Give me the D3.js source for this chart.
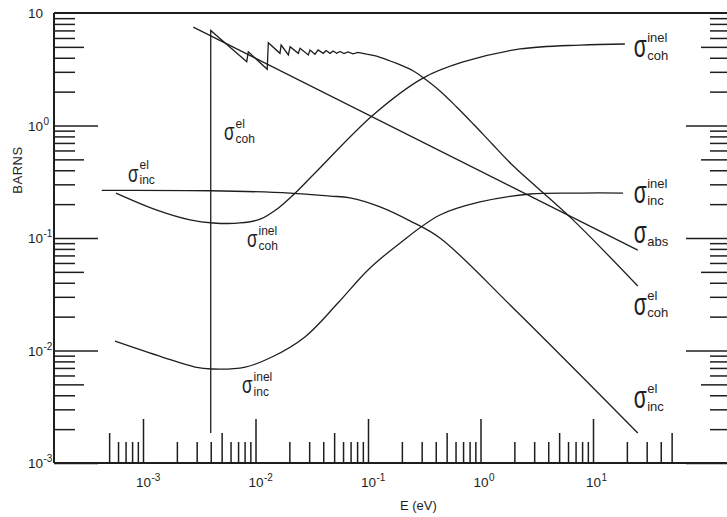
<!DOCTYPE html>
<html>
<head>
<meta charset="utf-8">
<script src="https://cdn.jsdelivr.net/npm/d3@7"></script>
<style>
  html, body { margin: 0; padding: 0; background: #ffffff; }
  svg { display: block; }
  text { font-family: "Liberation Sans", Arial, sans-serif; fill: #1e1e1e; }
</style>
</head>
<body>
<svg id="chart" width="727" height="517"></svg>
<script>
// Neutron cross sections (barns) against neutron energy E (eV)

// absorption, 1/v law
const absorption = [[2.8e-3, 7.5], [25, 0.078]];

// coherent elastic: Bragg cut-off and edges
const cohElasticEdges = [
  [4.0e-3, 1.85e-3], [4.0e-3, 7.0],
  [8.36e-3, 3.69], [8.63e-3, 4.53],
  [1.27e-2, 3.16], [1.30e-2, 5.44],
  [1.65e-2, 4.38], [1.69e-2, 5.19],
  [1.96e-2, 4.24], [2.03e-2, 5.01],
  [2.40e-2, 4.38], [2.49e-2, 4.85],
  [2.95e-2, 4.24], [3.05e-2, 4.69],
  [3.38e-2, 4.30], [3.6e-2, 4.69],
  [4.0e-2, 4.38], [4.24e-2, 4.64],
  [4.6e-2, 4.38], [4.89e-2, 4.59],
  [5.27e-2, 4.38], [5.64e-2, 4.55],
  [6.12e-2, 4.36], [6.64e-2, 4.50],
  [7.36e-2, 4.33], [8.15e-2, 4.46],
  [9.7e-2, 4.30]
];
// coherent elastic: smooth fall-off above the last edges
const cohElasticTail = [
  [9.7e-2, 4.30], [0.128, 4.04], [0.18, 3.56], [0.253, 3.05], [0.308, 2.67],
  [0.436, 2.03], [0.614, 1.46], [0.863, 1.03], [1.27, 0.685], [1.96, 0.436],
  [6.5, 0.148], [25, 0.0374]
];
// coherent inelastic
const cohInelastic = [
  [5.75e-4, 0.251], [1.33e-3, 0.177], [2.62e-3, 0.145], [4.2e-3, 0.136],
  [7.3e-3, 0.136], [1.1e-2, 0.147], [1.6e-2, 0.185], [2.2e-2, 0.245],
  [3.38e-2, 0.378], [0.111, 1.24], [0.308, 2.64], [0.70, 3.67], [2.25, 4.79],
  [7.7, 5.19], [19.2, 5.30]
];
// incoherent inelastic
const incInelastic = [
  [5.64e-4, 0.0121], [1.48e-3, 0.00875], [2.9e-3, 0.00713], [4.1e-3, 0.00685],
  [8.1e-3, 0.00713], [1.40e-2, 0.00875], [2.75e-2, 0.0132], [5.4e-2, 0.0264],
  [0.10, 0.052], [0.192, 0.090], [0.436, 0.160], [0.99, 0.209], [2.75, 0.246],
  [7.7, 0.251], [18.5, 0.251]
];
// incoherent elastic
const incElastic = [
  [4.3e-4, 0.265], [4.0e-3, 0.263], [2.03e-2, 0.251], [4.6e-2, 0.236],
  [6.92e-2, 0.227], [0.128, 0.189], [0.236, 0.142], [0.436, 0.100],
  [1.91, 0.0244], [25, 0.00185]
];

// tick labels (mantissa, exponent)
const energyTickLabels = [["10", "-3"], ["10", "-2"], ["10", "-1"], ["10", "0"], ["10", "1"]];
const energyTickValues = [1e-3, 1e-2, 1e-1, 1, 10];
const barnTickLabels = [["10", "-3"], ["10", "-2"], ["10", "-1"], ["10", "0"], ["10", ""]];
const barnTickValues = [1e-3, 1e-2, 1e-1, 1, 10];

// curve annotations: [superscript, subscript, E, sigma, size]
const curveLabels = [
  ["inel", "coh", 23, 4.06, "big"],
  ["inel", "inc", 23, 0.205, "big"],
  ["", "abs", 23, 0.090, "big"],
  ["el", "coh", 23, 0.0207, "big"],
  ["el", "inc", 23, 0.00308, "big"],
  ["el", "coh", 5.25e-3, 0.743, "small"],
  ["el", "inc", 7.36e-4, 0.315, "small"],
  ["inel", "coh", 8.4e-3, 0.083, "small"],
  ["inel", "inc", 7.6e-3, 0.00419, "small"]
];

const svg = d3.select("#chart");
const ink = "#1e1e1e";

const x = d3.scaleLog().domain([1e-3, 10]).range([143, 593]);
const y = d3.scaleLog().domain([1e-3, 10]).range([463, 13]);

const plotLeft = 54, plotRight = 727, plotTop = y(10), plotBottom = y(1e-3);

// frame: left axis, top edge, bottom axis
const frame = svg.append("g").attr("stroke", ink).attr("fill", "none");
frame.append("line").attr("x1", plotLeft).attr("x2", plotLeft).attr("y1", plotTop).attr("y2", plotBottom).attr("stroke-width", 2);
frame.append("line").attr("x1", plotLeft).attr("x2", plotRight).attr("y1", plotTop).attr("y2", plotTop).attr("stroke-width", 1.8);
frame.append("line").attr("x1", plotLeft).attr("x2", plotRight).attr("y1", plotBottom).attr("y2", plotBottom).attr("stroke-width", 1.8);

// tick positions on log paper
function logTicks(lo, hi) {
  const out = [];
  for (let d = lo; d < hi; d++) {
    for (let m = 1; m <= 9; m++) out.push(m * Math.pow(10, d));
  }
  return out;
}
const mantissa = v => Math.round(v / Math.pow(10, Math.floor(Math.log10(v) + 1e-9)));
const tickLen = (m, major, half, minor) => m === 1 ? major : (m === 5 ? half : minor);

// bottom ticks from 5e-4 to 5e1
const bottomTicks = logTicks(-4, 2).filter(v => v >= 4.99e-4 && v <= 50.01);
const bottomAxis = d3.axisBottom(x).tickValues(bottomTicks).tickSize(0).tickFormat("");
const gb = svg.append("g").attr("transform", `translate(0,${plotBottom})`).call(bottomAxis);
gb.select(".domain").remove();
gb.selectAll(".tick line").each(function(v) {
  d3.select(this).attr("y2", -tickLen(mantissa(v), 44, 30, 21)).attr("stroke", ink).attr("stroke-width", 1.5);
});

// left ticks (pointing into the plot)
const yTicks = logTicks(-3, 1);
const leftAxis = d3.axisLeft(y).tickValues(yTicks).tickSize(0).tickFormat("");
const gl = svg.append("g").attr("transform", `translate(${plotLeft},0)`).call(leftAxis);
gl.select(".domain").remove();
gl.selectAll(".tick line").each(function(v) {
  d3.select(this).attr("x2", tickLen(mantissa(v), 44, 30, 21)).attr("stroke", ink).attr("stroke-width", 1.5);
});

// right ticks (pointing into the plot)
const rightAxis = d3.axisRight(y).tickValues(yTicks).tickSize(0).tickFormat("");
const gr = svg.append("g").attr("transform", `translate(${plotRight},0)`).call(rightAxis);
gr.select(".domain").remove();
gr.selectAll(".tick line").each(function(v) {
  d3.select(this).attr("x2", -tickLen(mantissa(v), 41, 26, 17)).attr("stroke", ink).attr("stroke-width", 1.5);
});

// power-of-ten labels
function powerLabel(px, py, base, exp) {
  const t = svg.append("text").attr("x", px).attr("y", py).attr("font-size", 13.5);
  t.append("tspan").text(base);
  if (exp) t.append("tspan").attr("dy", -6).attr("dx", 0.5).attr("font-size", 10).text(exp);
}
energyTickValues.forEach((v, i) => powerLabel(x(v) - 7, 487, energyTickLabels[i][0], energyTickLabels[i][1]));
barnTickValues.forEach((v, i) => powerLabel(28, y(v) + 5, barnTickLabels[i][0], barnTickLabels[i][1]));

// axis titles
svg.append("text").attr("x", 400).attr("y", 510).attr("font-size", 13).text("E (eV)");
svg.append("text").attr("transform", "translate(22,170) rotate(-90)").attr("text-anchor", "middle")
  .attr("font-size", 13).attr("letter-spacing", 0.5).text("BARNS");

// curves
const lineLin = d3.line().x(d => x(d[0])).y(d => y(d[1]));
const lineSmooth = d3.line().x(d => x(d[0])).y(d => y(d[1])).curve(d3.curveCatmullRom.alpha(0.5));
const curves = svg.append("g").attr("fill", "none").attr("stroke", ink).attr("stroke-width", 1.3)
  .attr("stroke-linejoin", "round");
curves.append("path").attr("d", lineLin(absorption));
curves.append("path").attr("d", lineLin(cohElasticEdges)).attr("stroke-linejoin", "miter");
curves.append("path").attr("d", lineSmooth(cohElasticTail));
curves.append("path").attr("d", lineSmooth(cohInelastic));
curves.append("path").attr("d", lineSmooth(incInelastic));
curves.append("path").attr("d", lineSmooth(incElastic));

// sigma annotations with super/subscripts
curveLabels.forEach(([sup, sub, e, s, size]) => {
  const big = size === "big";
  const px = x(e), py = y(s);
  svg.append("text").attr("transform", `translate(${px},${py}) scale(1,1.45)`)
    .attr("font-size", big ? 21 : 17).text("σ");
  const dx = big ? 13.5 : 11.5;
  const fs = big ? 13 : 12;
  if (sup) svg.append("text").attr("x", px + dx).attr("y", py - (big ? 15 : 12.5)).attr("font-size", fs).text(sup);
  if (sub) svg.append("text").attr("x", px + dx).attr("y", py + 2.5).attr("font-size", fs).text(sub);
});
</script>
</body>
</html>
